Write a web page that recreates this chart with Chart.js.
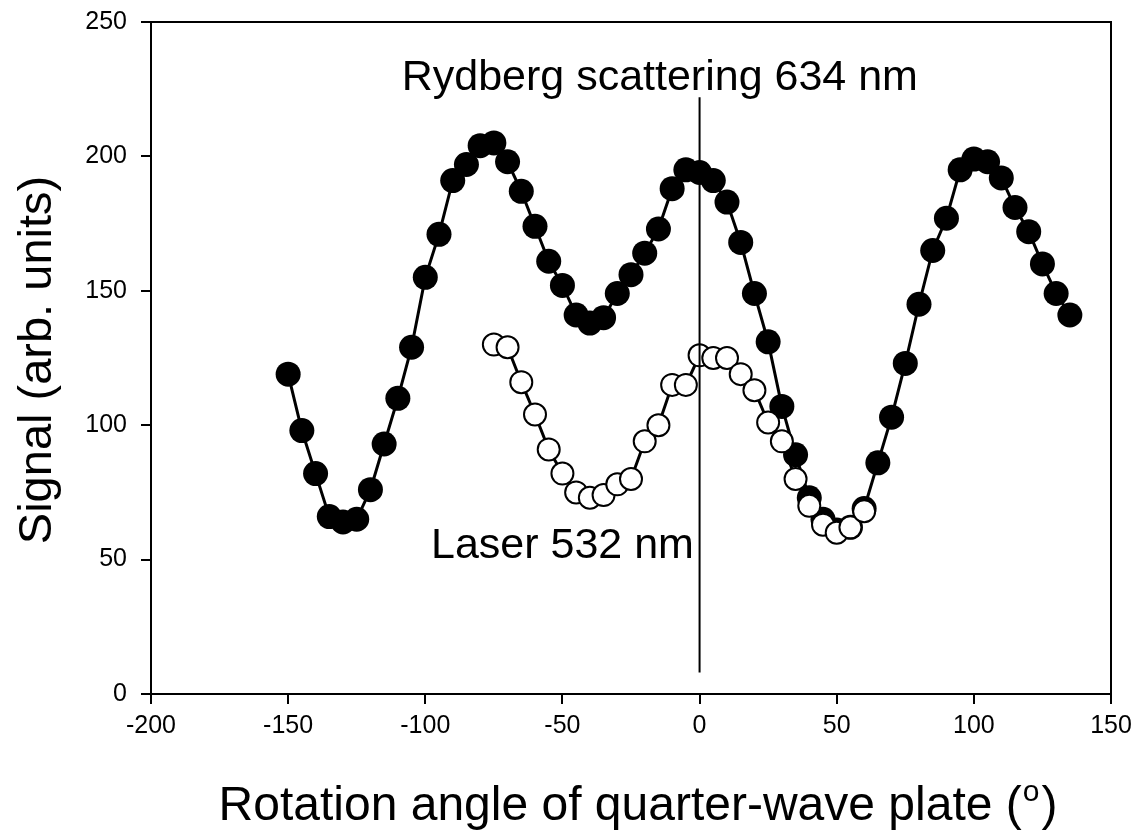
<!DOCTYPE html>
<html>
<head>
<meta charset="utf-8">
<script src="https://cdn.jsdelivr.net/npm/chart.js@4/dist/chart.umd.min.js"></script>
<style>
  html, body { margin: 0; padding: 0; background: #fff; }
  #wrap { width: 1138px; height: 833px; }
</style>
</head>
<body>
<div id="wrap"><canvas id="plot" width="1138" height="833"></canvas></div>
<script>
// rotation angle (deg) and signal
const rydbergAngles = [-150, -145, -140, -135, -130, -125, -120, -115, -110, -105, -100, -95, -90, -85, -80, -75, -70, -65, -60, -55, -50, -45, -40, -35, -30, -25, -20, -15, -10, -5, 0, 5, 10, 15, 20, 25, 30, 35, 40, 45, 50, 55, 60, 65, 70, 75, 80, 85, 90, 95, 100, 105, 110, 115, 120, 125, 130, 135];
const rydbergSignal = [119, 98, 82, 66, 64, 65, 76, 93, 110, 129, 155, 171, 191, 197, 204, 205, 198, 187, 174, 161, 152, 141, 138, 140, 149, 156, 164, 173, 188, 195, 194, 191, 183, 168, 149, 131, 107, 89, 73, 65, 61, 62, 69, 86, 103, 123, 145, 165, 177, 195, 199, 198, 192, 181, 172, 160, 149, 141];

const laserAngles = [-75, -70, -65, -60, -55, -50, -45, -40, -35, -30, -25, -20, -15, -10, -5, 0, 5, 10, 15, 20, 25, 30, 35, 40, 45, 50, 55, 60];
const laserSignal = [130, 129, 116, 104, 91, 82, 75, 73, 74, 78, 80, 94, 100, 115, 115, 126, 125, 125, 119, 113, 101, 94, 80, 70, 63, 60, 62, 68];

// vertical marker at 0 deg
const markerX = [0, 0];
const markerY = [8, 222];

const xTicks = [-200, -150, -100, -50, 0, 50, 100, 150];
const yTicks = [0, 50, 100, 150, 200, 250];

const labels = [
  { text: 'Rydberg scattering 634 nm', x: -14.5, y: 229 },
  { text: 'Laser 532 nm', x: -50, y: 55 }
];

const FONT = '"Liberation Sans", Arial, sans-serif';

function toPoints(xs, ys) {
  return xs.map((x, i) => ({ x: x, y: ys[i] }));
}

const decorations = {
  id: 'decorations',
  afterDraw(chart) {
    const ctx = chart.ctx;
    const a = chart.chartArea;
    const xs = chart.scales.x, ys = chart.scales.y;
    ctx.save();
    // top and right frame
    ctx.strokeStyle = '#000';
    ctx.lineWidth = 2;
    ctx.beginPath();
    ctx.moveTo(a.left, a.top);
    ctx.lineTo(a.right, a.top);
    ctx.lineTo(a.right, a.bottom);
    ctx.stroke();

    // in-plot labels
    ctx.fillStyle = '#000';
    ctx.textAlign = 'center';
    ctx.textBaseline = 'middle';
    ctx.font = '43px ' + FONT;
    labels.forEach(l => {
      ctx.fillText(l.text, xs.getPixelForValue(l.x), ys.getPixelForValue(l.y));
    });

    // y axis title
    ctx.save();
    ctx.translate(38, 360);
    ctx.rotate(-Math.PI / 2);
    ctx.font = '47px ' + FONT;
    ctx.fillText('Signal (arb. units)', 0, 0);
    ctx.restore();

    // x axis title with superscript o
    const main = 'Rotation angle of quarter-wave plate (';
    ctx.font = '48px ' + FONT;
    const w1 = ctx.measureText(main).width;
    const w3 = ctx.measureText(')').width;
    ctx.font = '30px ' + FONT;
    const w2 = ctx.measureText('o').width + 3;
    const total = w1 + w2 + w3;
    let x0 = 638 - total / 2;
    const yb = 820;
    ctx.textAlign = 'left';
    ctx.textBaseline = 'alphabetic';
    ctx.font = '48px ' + FONT;
    ctx.fillText(main, x0, yb);
    ctx.font = '30px ' + FONT;
    ctx.fillText('o', x0 + w1 + 1, yb - 19);
    ctx.font = '48px ' + FONT;
    ctx.fillText(')', x0 + w1 + w2, yb);
    ctx.restore();
  }
};

new Chart(document.getElementById('plot').getContext('2d'), {
  type: 'scatter',
  data: {
    datasets: [
      {
        label: 'marker',
        data: toPoints(markerX, markerY),
        showLine: true,
        borderColor: '#000',
        borderWidth: 2,
        pointRadius: 0,
        order: 0
      },
      {
        label: 'Laser 532 nm',
        data: toPoints(laserAngles, laserSignal),
        showLine: true,
        borderColor: '#000',
        borderWidth: 3,
        pointRadius: 11,
        pointBorderWidth: 2,
        pointBackgroundColor: '#fff',
        pointBorderColor: '#000',
        order: 1
      },
      {
        label: 'Rydberg scattering 634 nm',
        data: toPoints(rydbergAngles, rydbergSignal),
        showLine: true,
        borderColor: '#000',
        borderWidth: 3,
        pointRadius: 12.5,
        pointBorderWidth: 0,
        pointBackgroundColor: '#000',
        pointBorderColor: '#000',
        order: 2
      }
    ]
  },
  options: {
    responsive: false,
    animation: false,
    layout: { padding: { left: 0, top: 22, right: 27, bottom: 0 } },
    plugins: {
      legend: { display: false },
      tooltip: { enabled: false }
    },
    scales: {
      x: {
        type: 'linear',
        min: -200,
        max: 150,
        afterBuildTicks: s => { s.ticks = xTicks.map(v => ({ value: v })); },
        afterFit: s => { s.height = 833 - 694; s.paddingLeft = 0; s.paddingRight = 0; },
        grid: { drawOnChartArea: false, drawTicks: true, tickLength: 10, color: '#000', lineWidth: 2 },
        border: { color: '#000', width: 2 },
        ticks: { color: '#000', padding: 7, maxRotation: 0, font: { family: FONT, size: 25 } }
      },
      y: {
        type: 'linear',
        min: 0,
        max: 250,
        afterBuildTicks: s => { s.ticks = yTicks.map(v => ({ value: v })); },
        afterFit: s => { s.width = 151; s.paddingTop = 0; s.paddingBottom = 0; },
        grid: { drawOnChartArea: false, drawTicks: true, tickLength: 10, color: '#000', lineWidth: 2 },
        border: { color: '#000', width: 2 },
        ticks: { color: '#000', padding: 14, font: { family: FONT, size: 25 } }
      }
    }
  },
  plugins: [decorations]
});
</script>
</body>
</html>
